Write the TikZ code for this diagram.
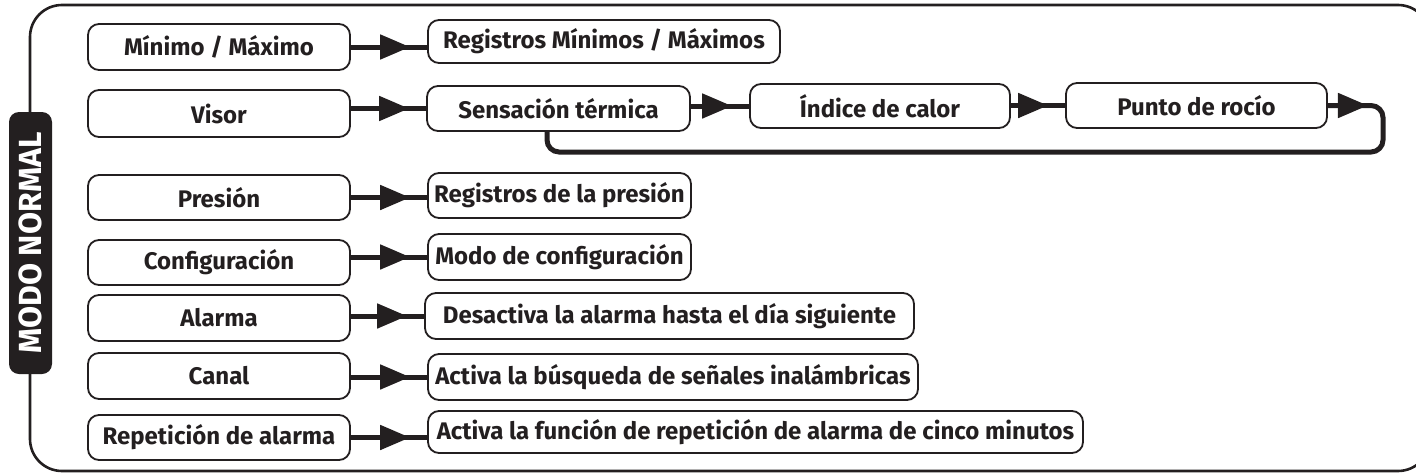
\documentclass[tikz,border=0pt]{standalone}
\usepackage{fontspec}
\setmainfont{Fira Sans}
\usetikzlibrary{arrows.meta,decorations.markings}
\definecolor{ink}{HTML}{231F20}
\begin{document}
\begin{tikzpicture}[x=1pt,y=-1pt,
  box/.style={draw=ink, line width=1.8pt, rounded corners=11pt, inner sep=0pt,
    font=\bfseries\fontsize{24}{27}\selectfont, text=ink},
  frameline/.style={draw=ink, line width=2.6pt},
  conn/.style={draw=ink, line width=5pt, postaction={decorate},
    decoration={markings, mark=at position -17pt with {\arrow{Triangle[length=30pt,width=24pt]}}}},
  loopconn/.style={draw=ink, line width=5pt, rounded corners=12pt, postaction={decorate},
    decoration={markings, mark=at position 40pt with {\arrow{Triangle[length=30pt,width=24pt]}}}},
  modelabel/.style={fill=ink, rounded corners=10pt, inner sep=0pt, text=white,
    font=\bfseries\fontsize{32}{34}\selectfont}]
\useasboundingbox (0,0) rectangle (1416,474);
% outer frame
\draw[frameline, rounded corners=32pt] (30,5) rectangle (1430,471);
\node[modelabel, minimum width=262pt, minimum height=43pt, rotate=90] (mode) at (30.5,243) {MODO NORMAL};
% left column
\node[box, minimum width=262pt, minimum height=46pt] (l1) at (219,47) {Mínimo / Máximo};
\node[box, minimum width=262pt, minimum height=47pt] (l2) at (219,113.5) {Visor};
\node[box, minimum width=262pt, minimum height=45pt] (l3) at (219,197.5) {Presión};
\node[box, minimum width=262pt, minimum height=45pt] (l4) at (219,262.5) {Configuración};
\node[box, minimum width=262pt, minimum height=46pt] (l5) at (219,318) {Alarma};
\node[box, minimum width=262pt, minimum height=46pt] (l6) at (219,376) {Canal};
\node[box, minimum width=262pt, minimum height=45pt] (l7) at (219,437.5) {Repetición de alarma};
% right column
\node[box, minimum width=352pt, minimum height=43pt] (r1) at (604,41.5) {Registros Mínimos / Máximos};
\node[box, minimum width=263pt, minimum height=45pt] (sens) at (558.5,108.5) {Sensación térmica};
\node[box, minimum width=260pt, minimum height=44pt] (ind) at (880,106) {Índice de calor};
\node[box, minimum width=261pt, minimum height=45pt] (punto) at (1196.5,105.5) {Punto de rocío};
\node[box, minimum width=263pt, minimum height=45pt] (r3) at (559.5,195.5) {Registros de la presión};
\node[box, minimum width=263pt, minimum height=46pt] (r4) at (559.5,257) {Modo de configuración};
\node[box, minimum width=489pt, minimum height=46pt] (r5) at (669.5,316) {Desactiva la alarma hasta el día siguiente};
\node[box, minimum width=490pt, minimum height=46pt] (r6) at (673,377) {Activa la búsqueda de señales inalámbricas};
\node[box, minimum width=655pt, minimum height=42pt] (r7) at (755.5,432) {Activa la función de repetición de alarma de cinco minutos};
% connectors
\draw[conn] (l1.east) -- (l1.east -| r1.west);
\draw[conn] (l2.east |- sens.west) -- (sens.west);
\draw[conn] (sens.east |- ind.west) -- (ind.west);
\draw[conn] (ind.east |- punto.west) -- (punto.west);
\draw[conn] (l3.east) -- (l3.east -| r3.west);
\draw[conn] (l4.east |- r4.west) -- (r4.west);
\draw[conn] (l5.east |- r5.west) -- (r5.west);
\draw[conn] (l6.east |- r6.west) -- (r6.west);
\draw[conn] (l7.east) -- (l7.east -| r7.west);
% loop back
\coordinate (loopR) at (1383,152);
\coordinate (loopL) at (547,152);
\draw[loopconn] (punto.east) -| (loopR) -- (loopL) -- (loopL |- sens.south);
\end{tikzpicture}
\end{document}
